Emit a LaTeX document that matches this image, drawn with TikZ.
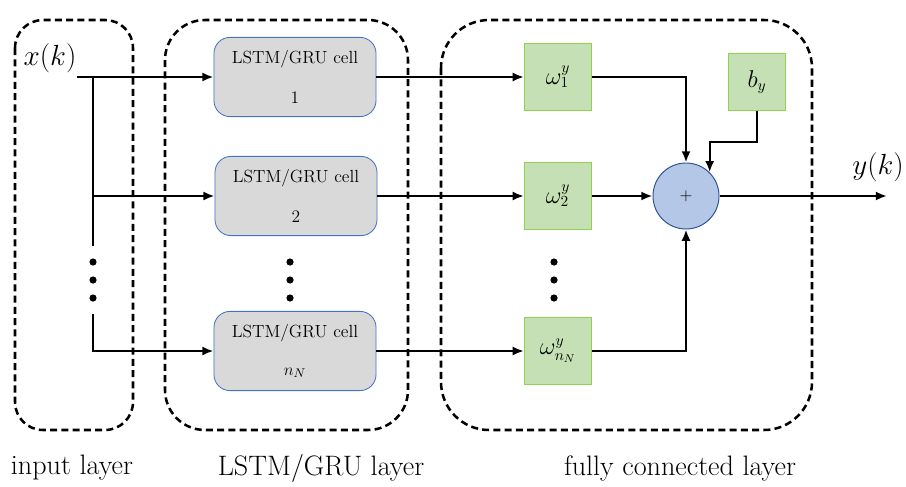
\documentclass[tikz,border=0pt]{standalone}
\usetikzlibrary{arrows.meta}

\definecolor{cellgray}{HTML}{D9D9D9}
\definecolor{cellblue}{HTML}{4472C4}
\definecolor{wgreen}{HTML}{C5E0B4}
\definecolor{wborder}{HTML}{92D050}
\definecolor{sumfill}{HTML}{B4C7E7}
\definecolor{sumborder}{HTML}{2F5597}

\tikzset{
	layerbox/.style={draw, line width=1.8pt, dash pattern=on 5pt off 3pt},
	cellbox/.style={draw=cellblue, fill=cellgray, rounded corners=0.4cm, line width=0.6pt,
		minimum width=4.05cm, minimum height=1.98cm, align=center,
		font=\fontsize{12.5}{14}\selectfont},
	weightbox/.style={draw=wborder, fill=wgreen, line width=0.7pt,
		minimum width=1.68cm, minimum height=1.68cm, font=\fontsize{16}{18}\selectfont},
	sumnode/.style={circle, draw=sumborder, fill=sumfill, line width=0.7pt,
		minimum size=1.65cm, inner sep=0pt, font=\fontsize{12}{14}\selectfont},
	flow/.style={line width=1.6pt, -{Latex[length=8pt, width=6.5pt]}},
	wire/.style={line width=1.6pt},
	caption/.style={font=\fontsize{20}{24}\selectfont},
}

\begin{document}
\begin{tikzpicture}[x=0.025cm, y=-0.025cm]
	\useasboundingbox (0,0) rectangle (906,486);

	% layers
	\draw[layerbox, rounded corners=0.7cm] (15,20) rectangle (133,430);
	\draw[layerbox, rounded corners=1.0cm] (165,20) rectangle (408,430);
	\draw[layerbox, rounded corners=1.2cm] (441,20) rectangle (812,430);

	\node[caption] (inlab) at (72,468) {input layer};
	\node[caption] (lstmlab) at (321,468) {LSTM/GRU layer};
	\node[caption] (fclab) at (680,468) {fully connected layer};

	% input
	\node[font=\fontsize{21}{24}\selectfont] (x) at (50,58) {$x(k)$};
	\coordinate (xin) at (77,77);
	\coordinate (bus) at (93,77);
	\coordinate (busend) at (93,246);
	\coordinate (busstart) at (93,314);

	% LSTM/GRU cells
	\node[cellbox] (cell1) at (295,77) {LSTM/GRU cell\\[15pt]1};
	\node[cellbox] (cell2) at (296,196) {LSTM/GRU cell\\[15pt]2};
	\node[cellbox] (cellN) at (295,351) {LSTM/GRU cell\\[13pt]$n_N$};

	% weights and bias
	\node[weightbox] (w1) at (558,77) {$\omega_1^y$};
	\node[weightbox] (w2) at (558,196) {$\omega_2^y$};
	\node[weightbox] (wN) at (558,351) {$\omega_{n_N}^y$};
	\node[weightbox, minimum width=1.43cm, minimum height=1.43cm] (by) at (757,82) {$b_y$};

	\node[sumnode] (sum) at (686,196) {+};
	\coordinate (yout) at (887,196);
	\node[font=\fontsize{21}{24}\selectfont] (y) at (878,167) {$y(k)$};

	% dots
	\foreach \px in {93,290,554}
		\foreach \py in {262,280,298}
			\fill (\px,\py) circle (0.09cm);

	% input wiring
	\draw[flow] (xin) -- (cell1);
	\draw[wire] (bus) -- (busend);
	\draw[flow] (bus |- cell2) -- (cell2);
	\draw[flow] (busstart) |- (cellN);

	% cells to weights
	\draw[flow] (cell1) -- (w1);
	\draw[flow] (cell2) -- (w2);
	\draw[flow] (cellN) -- (wN);

	% weights to sum
	\draw[flow] (w1) -| (sum);
	\draw[flow] (w2) -- (sum);
	\draw[flow] (wN) -| (sum);
	\draw[flow] (by.south) -- ++(0,31) -| (sum.north east);
	\draw[flow] (sum) -- (yout);
\end{tikzpicture}
\end{document}
